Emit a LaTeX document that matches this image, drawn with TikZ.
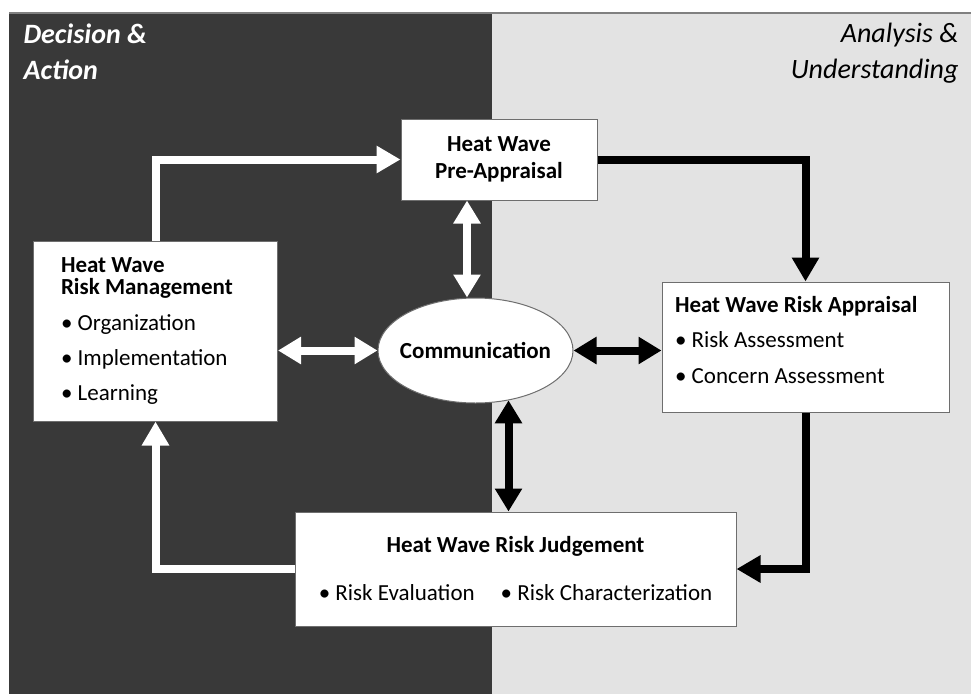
\documentclass[tikz,border=0pt]{standalone}
\usepackage{fontspec}
\setmainfont{Carlito}
\usetikzlibrary{shapes.geometric}
\usetikzlibrary{arrows.meta}
\definecolor{darkside}{HTML}{393939}
\definecolor{lightside}{HTML}{E3E3E3}
\definecolor{boxline}{HTML}{6E6E6E}

\begin{document}
\begin{tikzpicture}
	[x=1pt, y=-1pt,
	 font=\fontsize{23}{22}\selectfont,
	 box/.style={rectangle, draw=boxline, fill=white, line width=1pt, inner sep=0pt},
	 bubble/.style={ellipse, draw=boxline, fill=white, line width=1pt, inner xsep=-8pt, inner ysep=0pt, minimum width=195pt, minimum height=105pt},
	 whiteflow/.style={draw=white, line width=8pt, -{Triangle[length=24pt, width=26pt]}},
	 blackflow/.style={draw=black, line width=8pt, -{Triangle[length=24pt, width=26pt]}},
	 whiteboth/.style={draw=white, line width=8pt, {Triangle[length=23pt, width=26pt]}-{Triangle[length=23pt, width=26pt]}},
	 blackboth/.style={draw=black, line width=8pt, {Triangle[length=23pt, width=26pt]}-{Triangle[length=23pt, width=26pt]}}]
	
	\useasboundingbox (0,0) rectangle (971,694);
	\fill[white] (0,0) rectangle (971,694);
	\fill[darkside] (9,13) rectangle (492,694);
	\fill[lightside] (492,13) rectangle (971,694);
	\draw[gray, line width=1.5pt] (9,13) -- (971,13);
	
	\node[anchor=north west, align=flush left, text=white, font=\fontsize{28}{36}\selectfont\bfseries\itshape] (decision) at (20,20) {Decision \&\\Action};
	\node[anchor=north east, align=flush right, text=black, font=\fontsize{28}{36}\selectfont\itshape] (analysis) at (962,20) {Analysis \&\\Understanding};
	
	\node[box, minimum width=196pt, minimum height=81pt, align=center, font=\fontsize{23}{22}\selectfont\bfseries] (pre) at (499,159.5) {Heat Wave\\[5pt]Pre-Appraisal};
	\node[box, minimum width=244pt, minimum height=180pt, text width=189pt, align=flush left] (mgmt) at (155.5,331) {\textbf{Heat Wave}\\\textbf{Risk Management}\\[14pt]\textbullet\ Organization\\[13pt]\textbullet\ Implementation\\[13pt]\textbullet\ Learning};
	\node[bubble] (comm) at (475.5,350.5) {\textbf{Communication}};
	\node[box, minimum width=287pt, minimum height=130pt, text width=261pt, align=flush left] (appr) at (805.5,347) {\textbf{Heat Wave Risk Appraisal}\\[13pt]\textbullet\ Risk Assessment\\[14pt]\textbullet\ Concern Assessment\\[-8pt]\mbox{}};
	\node[box, minimum width=441pt, minimum height=114pt, align=center] (judg) at (515.5,569) {\textbf{Heat Wave Risk Judgement}\\[26pt]\textbullet\ Risk Evaluation\hspace{26pt}\textbullet\ Risk Characterization};
	
	\draw[whiteflow] (mgmt.north) |- (pre.west);
	\draw[blackflow] (pre.east) -| (appr.north);
	\draw[blackflow] (appr.south) |- (judg.east);
	\draw[whiteflow] (judg.west) -| (mgmt.south);
	
	\draw[whiteboth] ([xshift=-32pt]pre.south) -- ([xshift=-32pt]pre.south |- comm.north);
	\draw[whiteboth] (comm.west -| mgmt.east) -- (comm.west);
	\draw[blackboth] (comm.east) -- (comm.east -| appr.west);
	\draw[blackboth] ([xshift=-7pt]judg.north |- comm.-56) -- ([xshift=-7pt]judg.north);
\end{tikzpicture}
\end{document}
